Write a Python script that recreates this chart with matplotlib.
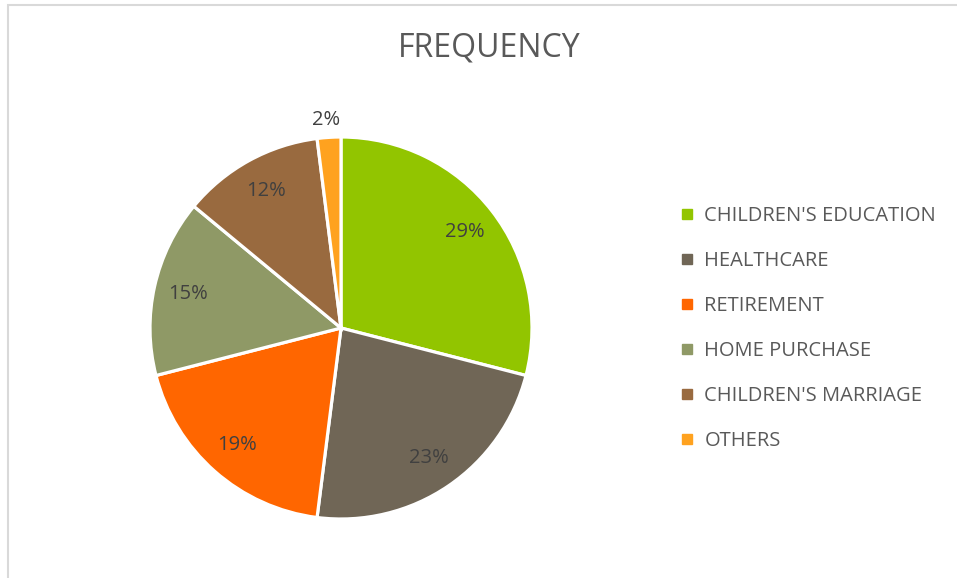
import matplotlib
matplotlib.use("Agg")
import matplotlib.pyplot as plt
from matplotlib.patches import Rectangle
from matplotlib.lines import Line2D

categories = ["CHILDREN'S EDUCATION", "HEALTHCARE", "RETIREMENT",
              "HOME PURCHASE", "CHILDREN'S MARRIAGE", "OTHERS"]
shares = [29, 23, 19, 15, 12, 2]
colors = ["#92C500", "#706656", "#FF6600", "#8F9966", "#996A3F", "#FFA21F"]

plt.rcParams["font.family"] = ["Open Sans", "DejaVu Sans"]

W, H = 957, 578
fig = plt.figure(figsize=(W / 100, H / 100), dpi=100)

# light frame of the chart area
fig.patches.append(Rectangle((8 / W, -0.1), 1.1, 1.1 - 5 / H, transform=fig.transFigure,
                             fill=False, edgecolor="#d9d9d9", linewidth=1.5))

cx, cy, r = 341, 328, 191
ax = fig.add_axes([(cx - r) / W, (H - cy - r) / H, 2 * r / W, 2 * r / H])
wedges, texts, autotexts = ax.pie(
    shares, colors=colors, startangle=90, counterclock=False,
    autopct="%d%%", pctdistance=0.82,
    wedgeprops=dict(edgecolor="white", linewidth=2.3),
    textprops=dict(color="#404040", fontsize=14.5))
ax.set_xlim(-1, 1)
ax.set_ylim(-1, 1)
ax.set_aspect("equal")
# small slice label sits outside the pie
autotexts[-1].set_position((-0.08, 1.09))
autotexts[-1].set_clip_on(False)

fig.text(489 / W, 1 - 48 / H, "FREQUENCY", ha="center", va="center",
         fontsize=23, color="#595959")

handles = [Line2D([], [], marker="s", linestyle="", markersize=7,
                  markerfacecolor=c, markeredgecolor=c) for c in colors]
fig.legend(handles, categories, loc="upper left",
           bbox_to_anchor=(661 / W, 1 - 188 / H), frameon=False,
           fontsize=14.5, labelcolor="#595959", labelspacing=1.24,
           handlelength=0.8, handletextpad=0.45)

fig.savefig("out.png", dpi=100)
